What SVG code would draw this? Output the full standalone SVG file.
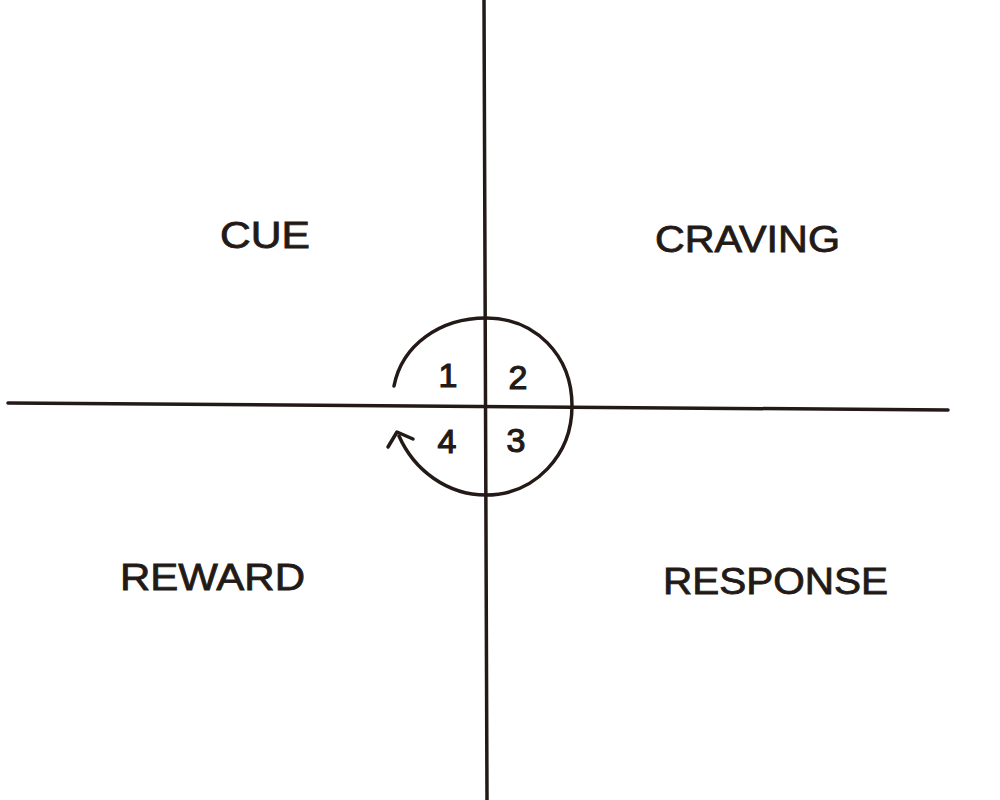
<svg xmlns="http://www.w3.org/2000/svg" width="1000" height="800" viewBox="0 0 1000 800">
<style>
.ln{stroke:#231a17;stroke-width:3.5;fill:none;stroke-linecap:round;stroke-linejoin:round}
.lbl{font-family:"Liberation Sans",Arial,sans-serif;fill:#231a17;font-size:36px;stroke:#231a17;stroke-width:0.8}
.num{font-family:"Liberation Sans",Arial,sans-serif;fill:#231a17;font-size:34px;text-anchor:middle;stroke:#231a17;stroke-width:1.2}
</style>
<rect width="1000" height="800" fill="#ffffff"/>
<g id="connectors">
<line class="ln" x1="484" y1="0" x2="487" y2="800"/>
<line class="ln" x1="8" y1="403" x2="948" y2="410"/>
<path class="ln" d="M394 386 C402 345 440 318 486 318 C535 318 572 355 572 406 C572 455 535 495 486 495 C447 495 414 470 399 436"/>
<polyline class="ln" points="388,447 397,432 413,439"/>
</g>
<g id="cue"><text class="lbl" x="220" y="248" textLength="90" lengthAdjust="spacingAndGlyphs">CUE</text></g>
<g id="craving"><text class="lbl" x="655" y="252" textLength="185" lengthAdjust="spacingAndGlyphs">CRAVING</text></g>
<g id="reward"><text class="lbl" x="120" y="590" textLength="185" lengthAdjust="spacingAndGlyphs">REWARD</text></g>
<g id="response"><text class="lbl" x="663" y="594" textLength="225" lengthAdjust="spacingAndGlyphs">RESPONSE</text></g>
<g id="n1"><text class="num" x="448" y="387">1</text></g>
<g id="n2"><text class="num" x="518" y="389">2</text></g>
<g id="n3"><text class="num" x="516" y="452">3</text></g>
<g id="n4"><text class="num" x="447" y="453">4</text></g>
</svg>
